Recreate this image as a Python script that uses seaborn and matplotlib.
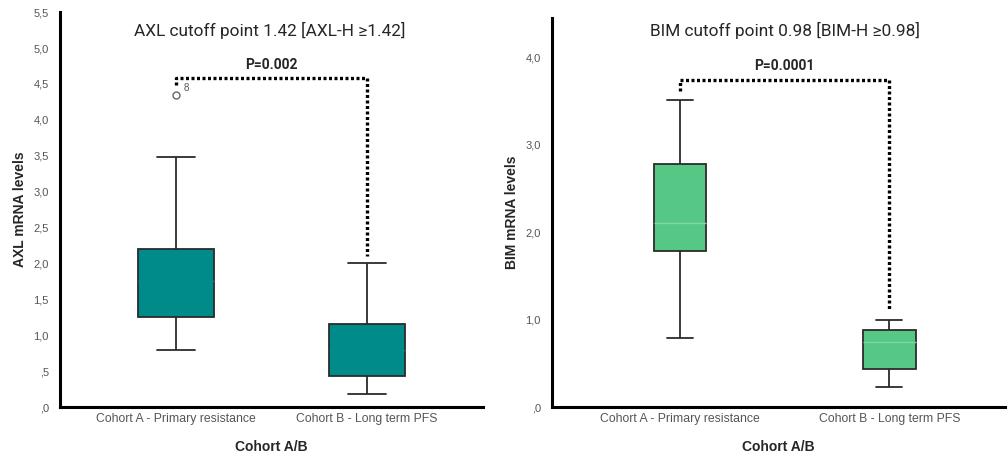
import numpy as np
import pandas as pd
import seaborn as sns
import matplotlib.pyplot as plt
from matplotlib.ticker import FuncFormatter, MultipleLocator

# values (five-number summaries expanded to 9 points
# so that quartiles / medians / whiskers land on the read values)
cohorts = ['Cohort A - Primary resistance', 'Cohort B - Long term PFS']
axl_a = [0.79, 1.26, 1.26, 1.75, 1.75, 2.20, 2.20, 3.48, 4.35]
axl_b = [0.18, 0.43, 0.43, 0.80, 0.80, 1.16, 1.16, 2.00, 2.00]
bim_a = [0.79, 1.78, 1.78, 2.10, 2.10, 2.78, 2.78, 3.51, 3.51]
bim_b = [0.23, 0.43, 0.43, 0.74, 0.74, 0.88, 0.88, 1.00, 1.00]

axl_p = 'P=0.002'
bim_p = 'P=0.0001'
axl_title = 'AXL cutoff point 1.42 [AXL-H \u22651.42]'
bim_title = 'BIM cutoff point 0.98 [BIM-H \u22650.98]'
outlier_id = '8'

df_axl = pd.DataFrame({'cohort': [cohorts[0]] * len(axl_a) + [cohorts[1]] * len(axl_b),
                       'value': axl_a + axl_b})
df_bim = pd.DataFrame({'cohort': [cohorts[0]] * len(bim_a) + [cohorts[1]] * len(bim_b),
                       'value': bim_a + bim_b})

sns.set_style('white')
plt.rcParams['font.family'] = ['Liberation Sans', 'DejaVu Sans']

fig = plt.figure(figsize=(10.08, 4.57), dpi=100)
ax1 = fig.add_axes([0.0595, 0.1094, 0.4196, 0.864])
ax2 = fig.add_axes([0.5476, 0.1094, 0.449, 0.851])


def spss_fmt(v, pos):
    s = f'{v:.1f}'.replace('.', ',')
    if s.startswith('0'):
        s = s[1:]
    return s


teal = '#008b8b'
green = '#57c785'

sns.boxplot(data=df_axl, x='cohort', y='value', order=cohorts, ax=ax1,
            color=teal, saturation=1, width=0.40, linecolor='#2b2b2b', linewidth=1.3,
            medianprops=dict(color=teal, linewidth=1),
            flierprops=dict(marker='o', markersize=5, markerfacecolor='none',
                            markeredgecolor='#666666', markeredgewidth=1))
sns.boxplot(data=df_bim, x='cohort', y='value', order=cohorts, ax=ax2,
            color=green, saturation=1, width=0.25, linecolor='#2b2b2b', linewidth=1.3,
            medianprops=dict(color='#7fd8a0', linewidth=1))

for ax, ylim, step, ylab in [(ax1, (0, 5.5), 0.5, 'AXL mRNA levels'),
                             (ax2, (0, 4.45), 1.0, 'BIM mRNA levels')]:
    ax.set_ylim(*ylim)
    ax.yaxis.set_major_locator(MultipleLocator(step))
    ax.yaxis.set_major_formatter(FuncFormatter(spss_fmt))
    ax.tick_params(axis='both', length=0, colors='#555555')
    ax.tick_params(axis='y', pad=8, labelsize=8)
    ax.tick_params(axis='x', pad=4, labelsize=8.8)
    for s in ['top', 'right']:
        ax.spines[s].set_visible(False)
    for s in ['left', 'bottom']:
        ax.spines[s].set_linewidth(2.2)
        ax.spines[s].set_color('black')
    ax.set_ylabel(ylab, fontsize=10, fontweight='bold', labelpad=5)
    ax.set_xlabel('Cohort A/B', fontsize=10, fontweight='bold', labelpad=11)

ax1.set_xlim(-0.607, 1.607)
ax2.set_xlim(-0.61, 1.55)

# significance brackets
dots = dict(ls=(0, (0.9, 0.75)), color='black', lw=2.4)
ax1.plot([0, 0, 1, 1], [4.48, 4.58, 4.58, 2.10], **dots)
ax2.plot([0, 0, 1, 1], [3.62, 3.74, 3.74, 1.11], **dots)
ax1.text(0.5, 4.77, axl_p, ha='center', va='center', fontsize=10,
         fontweight='bold', family=['Roboto', 'DejaVu Sans'])
ax2.text(0.5, 3.90, bim_p, ha='center', va='center', fontsize=10,
         fontweight='bold', family=['Roboto', 'DejaVu Sans'])

ax1.text(0.04, 4.44, outlier_id, ha='left', va='center', fontsize=7, color='#555555')

ax1.text(0.49, 0.954, axl_title, transform=ax1.get_xaxis_transform(),
         ha='center', va='center', fontsize=12.4, family=['Roboto', 'DejaVu Sans'])
ax2.text(0.5, 0.969, bim_title, transform=ax2.get_xaxis_transform(),
         ha='center', va='center', fontsize=12.4, family=['Roboto', 'DejaVu Sans'])

plt.savefig('out.png', dpi=100)
